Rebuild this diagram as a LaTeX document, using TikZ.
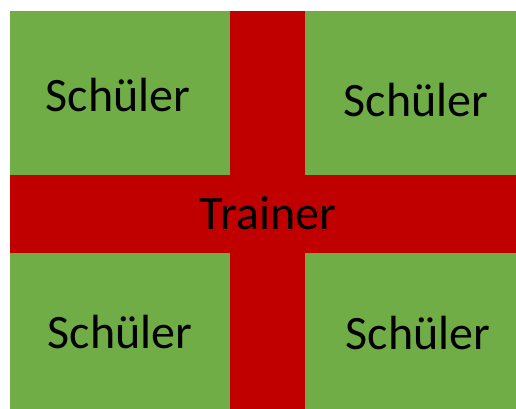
\documentclass[tikz,border=0pt]{standalone}
\usepackage{fontspec}
\setmainfont{Carlito}
\definecolor{gr}{HTML}{70AD47}
\definecolor{rd}{HTML}{C00000}
\begin{document}
\begin{tikzpicture}[x=1pt,y=-1pt,
  lbl/.style={font=\fontsize{48}{52}\selectfont, text=black, inner sep=0pt}]
\useasboundingbox (0,0) rectangle (516,409);
\fill[gr] (9.5,11) rectangle (516,409);
\fill[rd] (229.5,11) rectangle (305,409);
\fill[rd] (9.5,175) rectangle (516,253);
\node[lbl] (s1) at (118,95) {Schüler};
\node[lbl] (s2) at (416,100) {Schüler};
\node[lbl] (t) at (268,213) {Trainer};
\node[lbl] (s3) at (120,332) {Schüler};
\node[lbl] (s4) at (418,333) {Schüler};
\end{tikzpicture}
\end{document}
